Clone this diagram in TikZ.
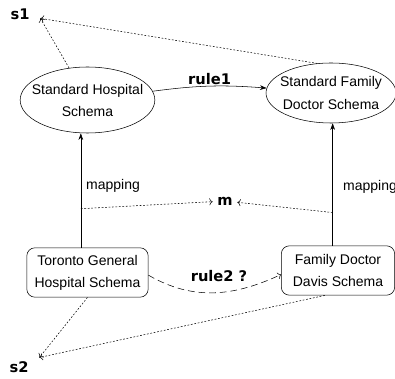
\documentclass[tikz,border=0pt]{standalone}
\usepackage{fontspec}
\setmainfont{Liberation Sans}
\newfontfamily\lblfont{DejaVu Sans}
\usetikzlibrary{arrows.meta,positioning,shapes.geometric}

\begin{document}
\begin{tikzpicture}[x=0.75pt,y=0.75pt,
		schema/.style={draw,ellipse,inner xsep=-10pt,inner ysep=0pt,align=center,font=\fontsize{10.5}{16.5}\selectfont},
		srcbox/.style={draw,rounded corners=6pt,inner sep=2pt,align=center,minimum height=37pt,font=\fontsize{10.5}{16.5}\selectfont},
		lbl/.style={font=\lblfont\bfseries\fontsize{11}{13}\selectfont},
		map/.style={-{Stealth[length=5pt,width=3.5pt]}},
		dots/.style={->,dash pattern=on 1.3pt off 1.3pt}]
				\path[use as bounding box]
				(0,0) rectangle (395,378);
				\node[schema,minimum width=101pt,minimum height=49.5pt] (shs) at (87.5,278) {Standard Hospital\\Schema};
				\node[schema,minimum width=97.5pt,minimum height=45pt] (sfd) at (331,285) {Standard Family\\Doctor Schema};
				\node[srcbox,minimum width=91pt] (tgh) at (87.5,105.5) {Toronto General\\Hospital Schema};
				\node[srcbox,minimum width=85pt] (fdd) at (338,107.5) {Family Doctor\\Davis Schema};
				\node[lbl,inner xsep=8pt,inner ysep=2pt] (s1) at (20,364) {s1};
				\node[lbl,inner xsep=8pt,inner ysep=5pt] (s2) at (19,11) {s2};
				\node[lbl] (m) at (225,177) {m};
				\draw[map] (shs) to[bend left=6] node[lbl,above=1pt,inner sep=0pt] {rule1} (sfd);
				\draw[map] ([xshift=-5pt]tgh.north) coordinate (lb) -- coordinate[pos=0.34] (ml) (lb |- shs.south);
				\draw[map] ([xshift=-4pt]fdd.north) coordinate (rb) -- coordinate[pos=0.27] (mr) (rb |- sfd.south);
				\node at (113,192) {\fontsize{10.5}{12}\selectfont mapping};
				\node at (370,191) {\fontsize{10.5}{12}\selectfont mapping};
				\draw[->,dash pattern=on 5pt off 3pt] ([yshift=-2pt]tgh.east) to[out=-30,in=205] ([yshift=-3pt]fdd.west);
				\node[lbl] at (219,102) {rule2 ?};
				\draw[dots] (ml) -- (m);
				\draw[dots] (mr) -- (m);
				\draw[dots] (shs) -- (s1.-12);
				\draw[dots] (sfd.115) -- (s1.-12);
				\draw[dots] (tgh.south) -- (s2.25);
				\draw[dots] (fdd.-118) -- (s2.25);
			\end{tikzpicture}
\end{document}
